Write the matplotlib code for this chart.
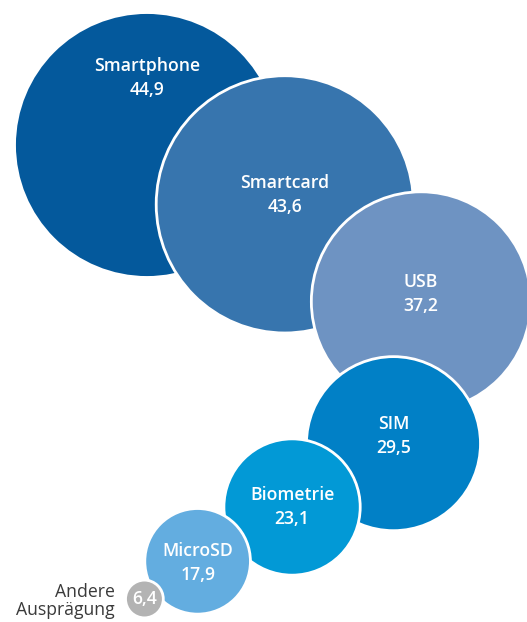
import numpy as np
import matplotlib.pyplot as plt
from matplotlib.patches import Circle

# Daten
kategorien = ['Smartphone', 'Smartcard', 'USB', 'SIM', 'Biometrie', 'MicroSD', 'Andere\nAusprägung']
werte = [44.9, 43.6, 37.2, 29.5, 23.1, 17.9, 6.4]
farben = ['#04599c', '#3775ae', '#6e93c2', '#0180c6', '#0299d6', '#63ade0', '#b3b3b3']

# Layout: Kette von Kreisen, jeder relativ zum vorherigen (Winkel in Grad, Ueberlappung in px)
skala = 2.95                      # Radius in px pro Prozentpunkt
start = (147, 145)
winkel = [23.3, 35.5, 101.0, 148.0, 150.1, 144.7]
ueberlappung = [111, 71, 52, 35.6, 12, 6.5]
label_dy = [-67, -9, -8, -8, 0, 2, 0]

radien = [v * skala for v in werte]
zentren = [start]
for i, (a, o) in enumerate(zip(winkel, ueberlappung)):
    d = radien[i] + radien[i + 1] - o
    x0, y0 = zentren[-1]
    zentren.append((x0 + d * np.cos(np.radians(a)), y0 + d * np.sin(np.radians(a))))

fig = plt.figure(figsize=(5.27, 6.22), dpi=100)
ax = fig.add_axes([0, 0, 1, 1])
ax.set_xlim(0, 527)
ax.set_ylim(622, 0)
ax.set_aspect('equal')
ax.axis('off')

fnt = 'Open Sans'
fs = 12.7
for i, (name, wert) in enumerate(zip(kategorien, werte)):
    cx, cy = zentren[i]
    ax.add_patch(Circle((cx, cy), radien[i], facecolor=farben[i], edgecolor='white',
                        linewidth=2, zorder=i + 1))
    wtxt = f'{wert:.1f}'.replace('.', ',')
    if i < len(werte) - 1:
        ty = cy + label_dy[i]
        ax.text(cx, ty - 12, name, color='white', fontsize=fs, fontweight='semibold',
                family=fnt, ha='center', va='center', zorder=20)
        ax.text(cx, ty + 12, wtxt, color='white', fontsize=fs, fontweight='semibold',
                family=fnt, ha='center', va='center', zorder=20)
    else:
        ax.text(cx, cy, wtxt, color='white', fontsize=fs, fontweight='semibold',
                family=fnt, ha='center', va='center', zorder=20)
        ax.text(cx - radien[i] - 11, cy + 2, name, color='#3a3a3a', fontsize=fs,
                family=fnt, ha='right', va='center', linespacing=1.05, zorder=20)

fig.savefig('out.png', dpi=100)
